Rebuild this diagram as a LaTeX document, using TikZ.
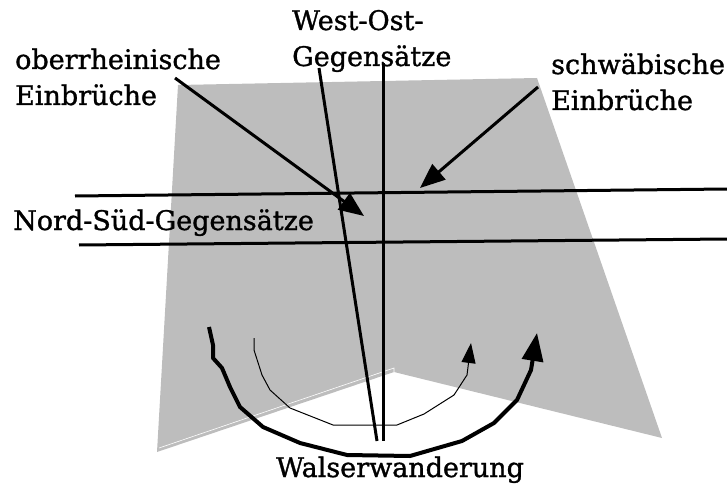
\documentclass[tikz,border=0pt]{standalone}
\usepackage{fontspec}
\setmainfont{DejaVu Serif}
\newfontfamily\lblfont{DejaVu Serif}[BoldFont={DejaVu Serif}, BoldFeatures={FakeBold=1.2}]
\usetikzlibrary{arrows.meta}
\definecolor{wallgray}{RGB}{189,189,189}

\begin{document}
\begin{tikzpicture}[x=1pt, y=-1pt,
    lbl/.style={anchor=base west, inner sep=0pt, align=left, font=\lblfont\bfseries\fontsize{27}{36}\selectfont},
    axis/.style={line width=3pt},
    push/.style={line width=3pt, -{Triangle[length=25pt, width=20pt]}},
    route/.style={line width=4pt, line join=round, -{Triangle[length=28pt, width=21pt]}},
    thinroute/.style={line width=1pt, line join=round, -{Triangle[length=20pt, width=14pt]}}]

    \useasboundingbox (0,0) rectangle (727,489);

    % the two walls
    \fill[wallgray] (178,85) -- (537,78) -- (662,438) -- (394,372) -- (157,452) -- cycle;
    \draw[white, line width=0.6pt] (159,448) -- (394,368) -- (394,372);

    % labels (base = last line)
    \node[lbl] (ober) at (15,105) {oberrheinische\\Einbrüche};
    \node[lbl] (westost) at (292,66) {West-Ost-\\Gegensätze};
    \node[lbl] (schwab) at (551,110) {schwäbische\\Einbrüche};
    \node[lbl] (nordsued) at (13,230) {Nord-Süd-Gegensätze};
    \node[lbl] (walser) at (276,477) {Walserwanderung};

    % end points of the lines
    \coordinate (ns1a) at (75,196);   \coordinate (ns1b) at (727,189);
    \coordinate (ns2a) at (79,245);   \coordinate (ns2b) at (727,239);
    \coordinate (wo1a) at (319,68);   \coordinate (wo1b) at (377,441);
    \coordinate (wo2a) at (383,63);   \coordinate (wo2b) at (383,441);
    \coordinate (oberA) at (175,78);  \coordinate (oberB) at (364,216);
    \coordinate (schwA) at (538,87);  \coordinate (schwB) at (420,188);

    \draw[axis] (ns1a) -- (ns1b);
    \draw[axis] (ns2a) -- (ns2b);
    \draw[axis] (wo1a) -- (wo1b);
    \draw[axis] (wo2a) -- (wo2b);
    \draw[push] (oberA) -- (oberB);
    \draw[push] (schwA) -- (schwB);

    % migration routes
    \coordinate (wA) at (209,327);
    \coordinate (wB) at (537,333);
    \draw[route] (wA) -- (213,345) -- (213,358) -- (222,368) -- (230,387) -- (240,407)
        -- (263,427) -- (300,443) -- (347,455) -- (410,456) -- (462,441) -- (494,423)
        -- (517,400) -- (531,370) -- (wB);
    \coordinate (vA) at (254,338);
    \coordinate (vB) at (471,343);
    \draw[thinroute] (vA) -- (254,350) -- (262,375) -- (270,390) -- (290,408) -- (333,425)
        -- (397,425) -- (424,414) -- (454,395) -- (467,375) -- (vB);
\end{tikzpicture}
\end{document}
